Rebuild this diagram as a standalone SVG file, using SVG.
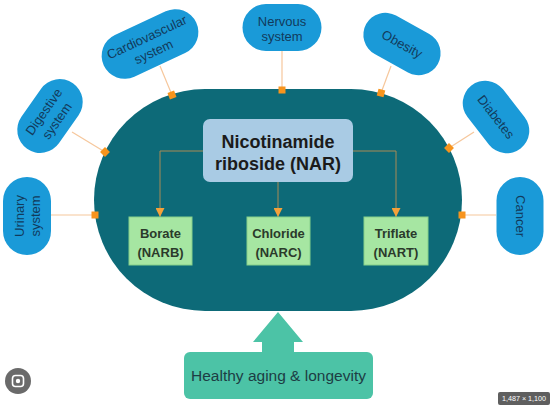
<svg xmlns="http://www.w3.org/2000/svg" width="554" height="412" viewBox="0 0 554 412">
<style>
.pill{fill:#1a9ad8}
.pt{font-family:"Liberation Sans",Arial,sans-serif;font-size:13px;fill:#123a5c;text-anchor:middle}
.peach{stroke:#f6c79c;stroke-width:1.2;fill:none}
.mk{fill:#f7941d}
.inner{stroke:#a98a55;stroke-width:1;fill:none}
.gbox{fill:#a6e6a2;stroke:#86d08a;stroke-width:1}
.gt{font-family:"Liberation Sans",Arial,sans-serif;font-size:13px;font-weight:bold;fill:#2b3a2b;text-anchor:middle}
</style>
<defs>
<marker id="ah" viewBox="0 0 10 10" refX="10" refY="5" markerUnits="userSpaceOnUse" markerWidth="9" markerHeight="9" orient="auto">
<path d="M0,0 L10,5 L0,10 z" fill="#f4a13a"/>
</marker>
</defs>
<rect width="554" height="412" fill="#ffffff"/>
<g id="core">
<rect x="94" y="89" width="368" height="222" rx="111" fill="#0d6a78"/>
</g>
<g id="connectors">
<line class="peach" x1="282" y1="51" x2="282" y2="90"/>
<line class="peach" x1="160" y1="66" x2="172" y2="95"/>
<line class="peach" x1="72" y1="132" x2="105" y2="152"/>
<line class="peach" x1="51" y1="215" x2="95" y2="215"/>
<line class="peach" x1="391" y1="66" x2="381" y2="93"/>
<line class="peach" x1="474" y1="132" x2="449" y2="148"/>
<line class="peach" x1="462" y1="215" x2="496" y2="215"/>
<rect class="mk" x="278.5" y="86.5" width="7" height="7"/>
<rect class="mk" x="168.5" y="91.5" width="7" height="7" transform="rotate(-20 172 95)"/>
<rect class="mk" x="101.5" y="148.5" width="7" height="7" transform="rotate(-45 105 152)"/>
<rect class="mk" x="91.5" y="211.5" width="7" height="7"/>
<rect class="mk" x="377.5" y="89.5" width="7" height="7" transform="rotate(15 381 93)"/>
<rect class="mk" x="445.5" y="144.5" width="7" height="7" transform="rotate(45 449 148)"/>
<rect class="mk" x="458.5" y="211.5" width="7" height="7"/>
<path class="inner" d="M203,151 H160 V217" marker-end="url(#ah)"/>
<path class="inner" d="M353,151 H396 V217" marker-end="url(#ah)"/>
<path class="inner" d="M278,182 V217" marker-end="url(#ah)"/>
</g>
<g id="nar">
<rect x="203" y="119" width="150" height="63" rx="7" fill="#a9cbe4"/>
<text x="278" y="148" font-family="'Liberation Sans',Arial,sans-serif" font-size="18" font-weight="bold" fill="#1b1b1b" text-anchor="middle">Nicotinamide</text>
<text x="278" y="170" font-family="'Liberation Sans',Arial,sans-serif" font-size="18" font-weight="bold" fill="#1b1b1b" text-anchor="middle">riboside (NAR)</text>
</g>
<g id="borate">
<rect class="gbox" x="129" y="217" width="63" height="48"/>
<text class="gt" x="160.5" y="238">Borate</text>
<text class="gt" x="160.5" y="257">(NARB)</text>
</g>
<g id="chloride">
<rect class="gbox" x="247" y="217" width="63" height="48"/>
<text class="gt" x="278.5" y="238">Chloride</text>
<text class="gt" x="278.5" y="257">(NARC)</text>
</g>
<g id="triflate">
<rect class="gbox" x="364" y="217" width="64" height="48"/>
<text class="gt" x="396" y="238">Triflate</text>
<text class="gt" x="396" y="257">(NART)</text>
</g>
<g id="nervous" transform="translate(282 27.5)">
<rect class="pill" x="-39.5" y="-23.5" width="79" height="47" rx="23.5"/>
<text class="pt" x="0" y="-2">Nervous</text>
<text class="pt" x="0" y="13.5">system</text>
</g>
<g id="cardiovascular" transform="translate(150 44) rotate(-25)">
<rect class="pill" x="-51" y="-23" width="102" height="46" rx="23"/>
<text class="pt" x="0" y="-3">Cardiovascular</text>
<text class="pt" x="0" y="13">system</text>
</g>
<g id="digestive" transform="translate(50 116) rotate(-55)">
<rect class="pill" x="-40" y="-23" width="80" height="46" rx="23"/>
<text class="pt" x="0" y="-3">Digestive</text>
<text class="pt" x="0" y="13">system</text>
</g>
<g id="urinary" transform="translate(27 216) rotate(-90)">
<rect class="pill" x="-39" y="-24" width="78" height="48" rx="24"/>
<text class="pt" x="0" y="-3">Urinary</text>
<text class="pt" x="0" y="13">system</text>
</g>
<g id="obesity" transform="translate(402 44) rotate(29)">
<rect class="pill" x="-41" y="-22" width="82" height="44" rx="22"/>
<text class="pt" x="0" y="4.5">Obesity</text>
</g>
<g id="diabetes" transform="translate(496 117) rotate(52)">
<rect class="pill" x="-40" y="-22.5" width="80" height="45" rx="22.5"/>
<text class="pt" x="0" y="4.5">Diabetes</text>
</g>
<g id="cancer" transform="translate(520 216) rotate(90)">
<rect class="pill" x="-39" y="-23.5" width="78" height="47" rx="23.5"/>
<text class="pt" x="0" y="4.5">Cancer</text>
</g>
<g id="healthy">
<polygon points="278,312 303,342 294,342 294,353 262,353 262,342 253,342" fill="#4cc3a6"/>
<rect x="184" y="352" width="189" height="47" rx="6" fill="#4cc3a6"/>
<text x="278.5" y="381" font-family="'Liberation Sans',Arial,sans-serif" font-size="15.5" fill="#1d3d44" text-anchor="middle">Healthy aging &amp; longevity</text>
</g>
<g id="overlay">
<circle cx="18" cy="381" r="13" fill="#6a6a6a"/>
<rect x="12.5" y="375.5" width="11" height="11" rx="3" fill="none" stroke="#ffffff" stroke-width="1.6"/>
<circle cx="18" cy="381" r="2.2" fill="#ffffff"/>
<rect x="498" y="392" width="52" height="13" rx="2" fill="#5f5f5f"/>
<text x="524" y="401" font-family="'Liberation Sans',Arial,sans-serif" font-size="7.2" fill="#ffffff" text-anchor="middle">1,487 × 1,100</text>
</g>
</svg>
